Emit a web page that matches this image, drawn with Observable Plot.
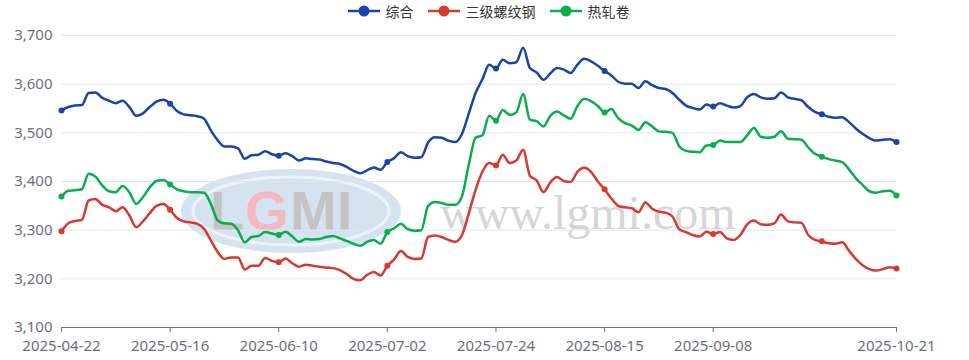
<!DOCTYPE html>
<html>
<head>
<meta charset="utf-8">
<script src="https://cdn.jsdelivr.net/npm/d3@7"></script>
<script src="https://cdn.jsdelivr.net/npm/@observablehq/plot@0.6"></script>
<style>
  body { margin: 0; background: #fff; font-family: "Noto Sans CJK SC", "Noto Sans", sans-serif; }
  #wrap { position: relative; width: 969px; height: 360px; overflow: hidden; }
  #wm { position: absolute; left: 0; top: 0; z-index: 0; }
  #legend { position: relative; z-index: 1; height: 22px; display: flex; justify-content: center; align-items: center; font-size: 14px; color: #333; padding-left: 8px; }
  .item { display: flex; align-items: center; margin: 0 7px; }
  .item svg { margin-right: 6px; }
  #chart { position: relative; z-index: 1; }
</style>
</head>
<body>
<div id="wrap">
  <svg id="wm" width="969" height="360">
    <ellipse cx="291" cy="211" rx="110" ry="42" fill="#c3d5ea" fill-opacity="0.7"/>
    <ellipse cx="291" cy="211" rx="98" ry="34" fill="none" stroke="#ffffff" stroke-opacity="0.6" stroke-width="3"/>
    <text x="210" y="230" font-family="Liberation Sans, sans-serif" font-size="56" font-weight="bold" fill="#c4c4c4">L</text>
    <text x="245" y="230" font-family="Liberation Sans, sans-serif" font-size="56" font-weight="bold" fill="#f4b8c0">G</text>
    <text x="290" y="230" font-family="Liberation Sans, sans-serif" font-size="56" font-weight="bold" fill="#c4c4c4">MI</text>
    <text x="440" y="229" font-family="Liberation Serif, serif" font-size="48" fill="#d6d6d6">www.lgmi.com</text>
  </svg>
  <div id="legend"></div>
  <div id="chart"></div>
</div>
<script>
const seriesNames = ["综合", "三级螺纹钢", "热轧卷"];
const seriesColors = ["#1a44a8", "#d5392f", "#0aad4c"];

const xTickIndex = [0, 16, 32, 48, 64, 80, 96, 123];
const xTickLabels = ["2025-04-22", "2025-05-16", "2025-06-10", "2025-07-02", "2025-07-24", "2025-08-15", "2025-09-08", "2025-10-21"];
const yTicks = [3100, 3200, 3300, 3400, 3500, 3600, 3700];
const markerIndex = [0, 16, 32, 48, 64, 80, 96, 112, 123];

const composite = [
  3546, 3553, 3556, 3557, 3582, 3583, 3572, 3566, 3561, 3566,
  3553, 3535, 3540, 3553, 3564, 3568, 3560, 3545, 3538, 3536,
  3534, 3529, 3505, 3485, 3472, 3472, 3468, 3447, 3454, 3455,
  3462, 3456, 3453, 3458, 3452, 3443, 3448, 3446, 3445, 3441,
  3438, 3436, 3430, 3422, 3417, 3423, 3429, 3424, 3440, 3448,
  3460, 3452, 3449, 3450, 3480, 3491, 3490, 3484, 3481, 3498,
  3540, 3582, 3610, 3640, 3632, 3650, 3643, 3645, 3675, 3633,
  3624, 3609, 3622, 3633, 3630, 3623, 3640, 3652, 3647, 3638,
  3627, 3618, 3605, 3601, 3601, 3592, 3606, 3598, 3592, 3590,
  3582, 3568, 3556, 3551, 3548, 3558, 3554, 3561, 3556, 3552,
  3555, 3573, 3580, 3573, 3570, 3571, 3583, 3573, 3570, 3567,
  3553, 3543, 3538, 3533, 3531, 3532, 3522, 3509, 3498, 3489,
  3484, 3486, 3487, 3481
];

const rebar = [
  3298, 3314, 3319, 3321, 3361, 3364, 3352, 3347, 3339, 3347,
  3330, 3306, 3318, 3335, 3350, 3354, 3342, 3325, 3318, 3316,
  3313, 3303, 3279, 3255, 3241, 3244, 3244, 3219, 3227, 3227,
  3243, 3237, 3234, 3242, 3232, 3225, 3229, 3227, 3225, 3223,
  3222, 3218, 3210, 3200, 3197, 3208, 3214, 3207, 3227, 3240,
  3257, 3245, 3241, 3242, 3286, 3289, 3286, 3280, 3276, 3290,
  3335, 3383, 3420, 3438, 3433, 3455, 3438, 3443, 3465, 3412,
  3402, 3378, 3398, 3409, 3401, 3399, 3420, 3428, 3420, 3400,
  3384, 3365, 3350, 3347, 3345, 3337, 3357, 3344, 3338, 3336,
  3328, 3302, 3296, 3290, 3287, 3297, 3292, 3296, 3283, 3280,
  3290, 3312, 3320, 3312, 3311, 3314, 3332, 3318, 3316, 3315,
  3290, 3280, 3277, 3273, 3272, 3275, 3258, 3241, 3228, 3220,
  3217, 3220, 3224, 3221
];

const hotRolled = [
  3369, 3381, 3382, 3384, 3416, 3410, 3392, 3380, 3378, 3391,
  3378, 3354, 3368, 3388, 3401, 3403, 3394, 3384, 3380, 3378,
  3378, 3377, 3354, 3320, 3314, 3313, 3300, 3275, 3286, 3288,
  3296, 3293, 3290, 3297, 3287, 3276, 3282, 3281, 3282, 3286,
  3288, 3283, 3278, 3272, 3268, 3276, 3280, 3272, 3296, 3304,
  3313, 3302, 3299, 3300, 3350, 3358, 3356, 3352, 3352, 3370,
  3435, 3490, 3495, 3535, 3525, 3547, 3537, 3542, 3580, 3527,
  3524, 3513, 3535, 3544, 3536, 3529, 3555, 3570, 3565, 3555,
  3542, 3549, 3530, 3520, 3515, 3506, 3522, 3513, 3503, 3502,
  3500, 3472, 3463, 3461, 3460, 3474, 3475, 3484, 3481, 3481,
  3481, 3495, 3510, 3492, 3490, 3492, 3503, 3488, 3487, 3486,
  3470, 3457, 3451, 3446, 3443, 3440, 3425, 3407, 3393, 3380,
  3377, 3380, 3381, 3371
];

const allSeries = [composite, rebar, hotRolled];
const rows = [];
allSeries.forEach((vals, s) => vals.forEach((v, i) => rows.push({i, v, s: seriesNames[s]})));
const markers = rows.filter(d => markerIndex.includes(d.i));

// legend
const legend = document.getElementById("legend");
seriesNames.forEach((n, k) => {
  const it = document.createElement("div");
  it.className = "item";
  it.innerHTML = `<svg width="32" height="14"><line x1="0" x2="32" y1="7" y2="7" stroke="${seriesColors[k]}" stroke-width="2.5"/><circle cx="16" cy="7" r="5.5" fill="${seriesColors[k]}"/></svg><span>${n}</span>`;
  legend.appendChild(it);
});

const color = {domain: seriesNames, range: seriesColors};
const fmt = d3.format(",");

const chart = Plot.plot({
  width: 969,
  height: 338,
  marginLeft: 61,
  marginRight: 73,
  marginTop: 13,
  marginBottom: 33,
  style: {background: "transparent", fontFamily: "'Noto Sans', 'Noto Sans CJK SC', sans-serif"},
  x: {domain: [0, 123], label: null},
  y: {domain: [3100, 3700], label: null},
  color,
  marks: [
    Plot.gridY(yTicks.slice(1), {stroke: "#e0e6f1", strokeOpacity: 1, strokeWidth: 1}),
    Plot.axisY({ticks: yTicks, tickSize: 0, tickPadding: 9, tickFormat: fmt, fontSize: 15, fill: "#6e7079", label: null}),
    Plot.ruleY([3100], {stroke: "#6e7079", strokeWidth: 1}),
    Plot.axisX({ticks: xTickIndex, tickSize: 5, tickPadding: 8, stroke: "#6e7079", fill: "#6e7079", fontSize: 15, label: null,
      tickFormat: d => xTickLabels[xTickIndex.indexOf(d)]}),
    Plot.line(rows, {x: "i", y: "v", z: "s", stroke: "s", strokeWidth: 2.5, curve: "monotone-x"}),
    Plot.dot(markers, {x: "i", y: "v", fill: "s", r: 3})
  ]
});
document.getElementById("chart").appendChild(chart);
</script>
</body>
</html>
